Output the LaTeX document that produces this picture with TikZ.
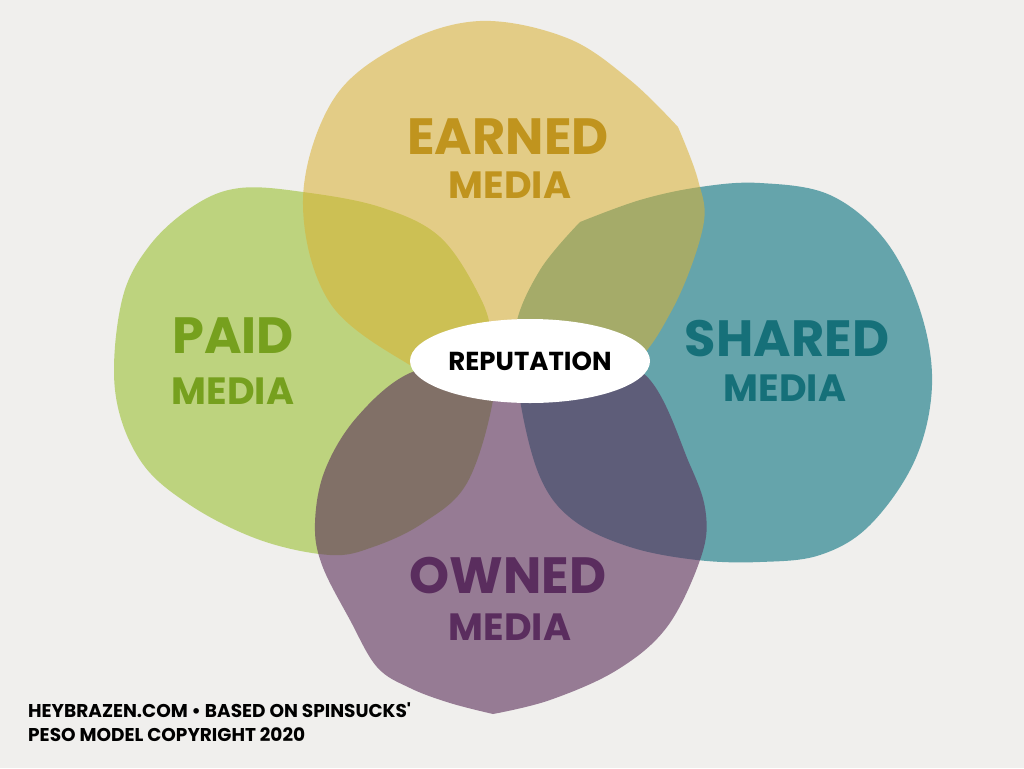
\documentclass[tikz,border=0pt]{standalone}
\usepackage{fontspec}
\usetikzlibrary{shapes.geometric}
\newfontfamily\brushfont{Poppins}

\definecolor{bgcol}{RGB}{240,239,237}
\definecolor{paidcol}{RGB}{162,197,68}
\definecolor{sharedcol}{RGB}{43,133,144}
\definecolor{earnedcol}{RGB}{218,177,51}
\definecolor{ownedcol}{RGB}{90,46,89}
\definecolor{paidtext}{RGB}{118,160,30}
\definecolor{sharedtext}{RGB}{22,112,121}
\definecolor{earnedtext}{RGB}{192,148,30}
\definecolor{ownedtext}{RGB}{90,45,94}

\tikzset{
    petal/.style={fill=#1, draw=none},
    headline/.style={font=\brushfont\bfseries\fontsize{51}{51}\selectfont, text=#1, inner sep=0pt},
    subline/.style={font=\brushfont\bfseries\fontsize{38}{38}\selectfont, text=#1, inner sep=0pt},
    footline/.style={font=\brushfont\bfseries\fontsize{18.5}{18.5}\selectfont, anchor=base west, inner sep=0pt},
}

\begin{document}
\begin{tikzpicture}[x=1pt, y=-1pt]
    \fill[bgcol] (0,0) rectangle (1024,768);
    \useasboundingbox (0,0) rectangle (1024,768);

    % the four petals
    \fill[petal=paidcol, fill opacity=0.65] plot[smooth cycle, tension=0.6] coordinates {
        (240,188) (303,192) (380,207) (440,237) (480,297) (492,340) (493,400) (467,483)
        (423,523) (373,547) (330,555) (260,540) (190,505) (140,460) (115,390) (122,300)
        (150,245) (195,205)};
    \fill[petal=sharedcol, fill opacity=0.7] plot[smooth, tension=0.6] coordinates {
        (580,222) (640,200) (700,187) (760,183) (830,195) (885,240) (920,310) (932,385)
        (915,460) (870,525) (820,555) (760,562) (697,560) (630,547) (573,520) (540,477)
        (520,400) (515,330) (540,270) (580,222)} -- cycle;
    \fill[petal=earnedcol, fill opacity=0.55] plot[smooth, tension=0.6] coordinates {
        (678,127) (698,180) (703,227) (672,310) (625,370) (540,392)
        (460,385) (413,367) (330,303) (303,200) (333,100) (400,45) (480,21) (567,38)
        (630,80) (678,127)} -- cycle;
    \fill[petal=ownedcol, fill opacity=0.6] plot[smooth, tension=0.6] coordinates {
        (493,714) (550,700) (617,670) (667,627) (700,560) (706,515) (690,465)
        (643,373) (560,362) (480,362) (410,373) (357,417) (325,470) (315,523) (322,565)
        (350,620) (377,667) (410,688) (450,703) (493,714)} -- cycle;

    % centre
    \node[ellipse, fill=white, minimum width=240, minimum height=84, inner sep=0pt,
          font=\brushfont\bfseries\fontsize{26}{26}\selectfont] (rep) at (530,361) {REPUTATION};

    % labels
    \node[headline=earnedtext] (earned) at (508,137) {EARNED};
    \node[subline=earnedtext] (earnedsub) at (510,185) {MEDIA};
    \node[headline=paidtext] (paid) at (233,336) {PAID};
    \node[subline=paidtext] (paidsub) at (233,391) {MEDIA};
    \node[headline=sharedtext] (shared) at (787,339) {SHARED};
    \node[subline=sharedtext] (sharedsub) at (785,388) {MEDIA};
    \node[headline=ownedtext] (owned) at (508,576) {OWNED};
    \node[subline=ownedtext] (ownedsub) at (510,627) {MEDIA};

    % credit
    \node[footline] (credit1) at (28,717) {HEYBRAZEN.COM • BASED ON SPINSUCKS'};
    \node[footline] (credit2) at (28,741) {PESO MODEL COPYRIGHT 2020};
\end{tikzpicture}
\end{document}
